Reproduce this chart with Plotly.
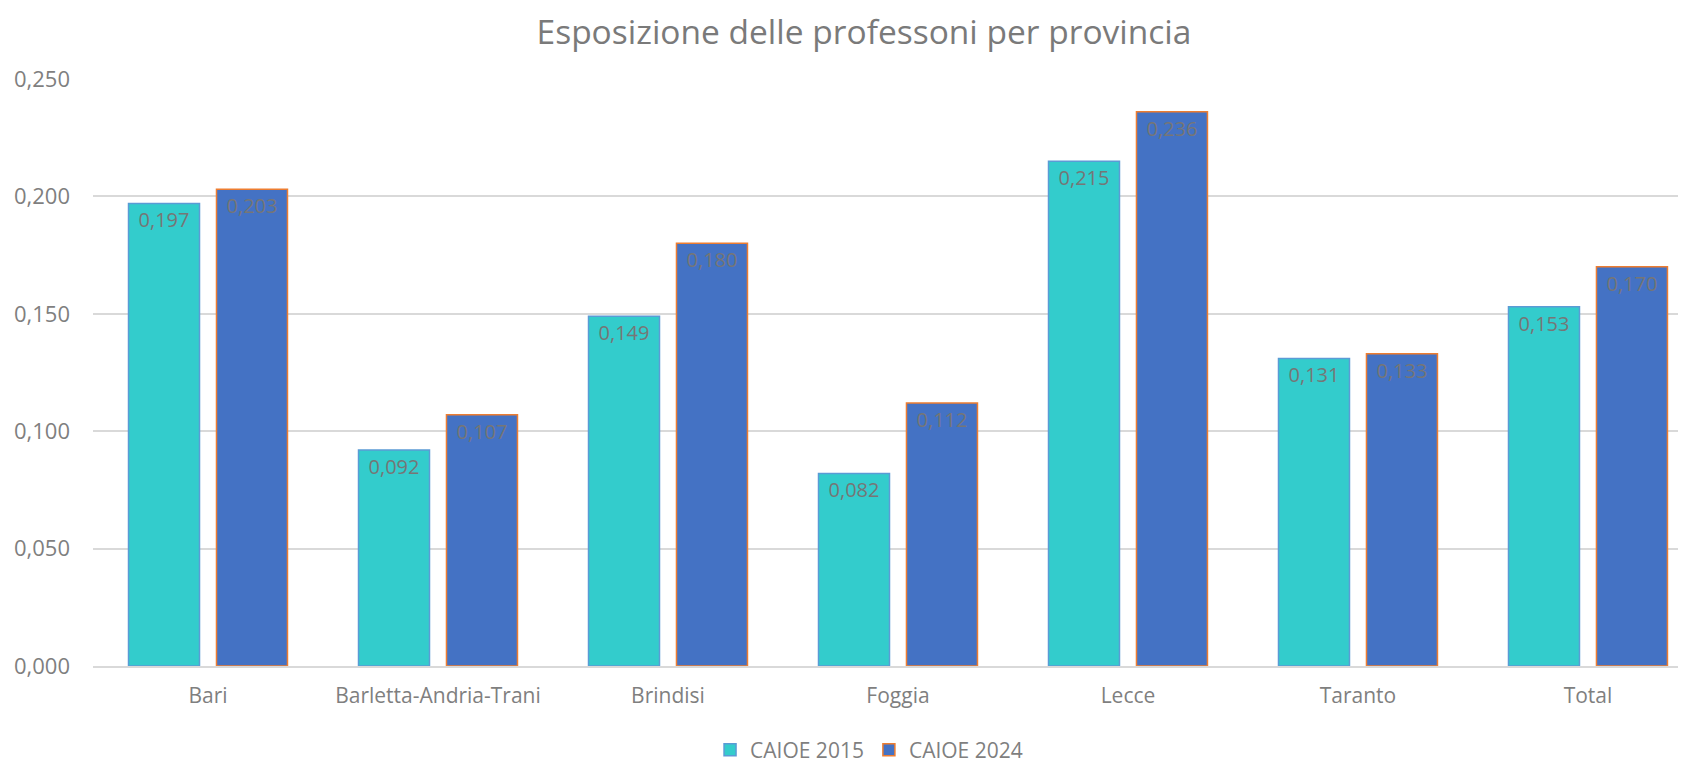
import plotly.graph_objects as go

categories = ["Bari", "Barletta-Andria-Trani", "Brindisi", "Foggia", "Lecce", "Taranto", "Total"]
caioe_2015 = [0.197, 0.092, 0.149, 0.082, 0.215, 0.131, 0.153]
caioe_2024 = [0.203, 0.107, 0.180, 0.112, 0.236, 0.133, 0.170]
y_ticks = [0.0, 0.05, 0.10, 0.15, 0.20, 0.25]

FONT = "Open Sans"
GRAY = "#7F7F7F"


def fmt(vals):
    return [f"{v:.3f}".replace(".", ",") for v in vals]


fig = go.Figure()
fig.add_trace(go.Bar(
    x=categories, y=caioe_2015, name="CAIOE 2015",
    marker=dict(color="#33CCCC", line=dict(color="#5B9BD5", width=1.5)),
    text=fmt(caioe_2015),
    textposition="inside", insidetextanchor="end",
    textfont=dict(color="#767676", size=20, family=FONT),
))
fig.add_trace(go.Bar(
    x=categories, y=caioe_2024, name="CAIOE 2024",
    marker=dict(color="#4472C4", line=dict(color="#ED7D31", width=1.5)),
    text=fmt(caioe_2024),
    textposition="inside", insidetextanchor="end",
    textfont=dict(color="#767676", size=20, family=FONT),
))

fig.update_layout(
    width=1686, height=762,
    paper_bgcolor="white", plot_bgcolor="white",
    font=dict(family=FONT, color=GRAY, size=20),
    separators=",.",
    title=dict(text="Esposizione delle professoni per provincia",
               x=0.5077, xanchor="center", y=1 - 24 / 762, yanchor="middle",
               font=dict(size=33.5, color="#7A7A7A", family=FONT)),
    margin=dict(l=85, r=0, t=71, b=104),
    barmode="group", bargap=0.235, bargroupgap=0.193,
    uniformtext=dict(mode=False),
    legend=dict(orientation="h", xref="container", x=0.5107, xanchor="center",
                yref="container", y=1 - 742 / 762, yanchor="middle",
                font=dict(size=21, color=GRAY, family=FONT), traceorder="normal",
                itemwidth=30),
    showlegend=True,
)
fig.update_xaxes(range=[-0.5, 6.461], automargin=False,
                 showline=True, linecolor="#D9D9D9", linewidth=1.5, ticks="",
                 ticklabelstandoff=10,
                 tickfont=dict(size=21, color=GRAY), showgrid=False)
fig.update_yaxes(range=[0, 0.25], tickvals=y_ticks, tickformat=".3f", automargin=False,
                 showgrid=True, gridcolor="#D9D9D9", gridwidth=1.5,
                 zeroline=False, showline=False, ticks="",
                 ticklabelstandoff=22,
                 tickfont=dict(size=22, color=GRAY))

fig.write_html("out.html")
